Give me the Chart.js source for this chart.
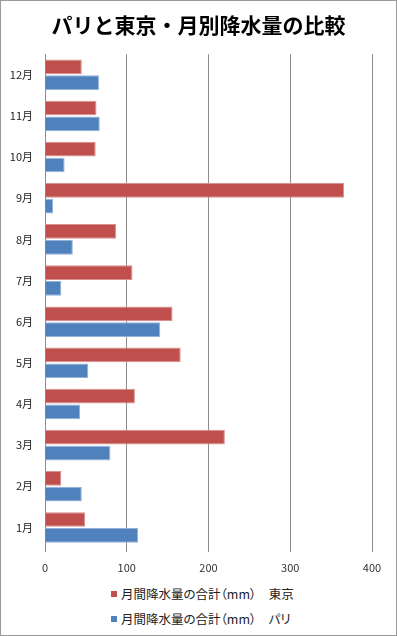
<!DOCTYPE html>
<html>
<head>
<meta charset="utf-8">
<script src="https://cdn.jsdelivr.net/npm/chart.js@4"></script>
<style>
html,body{margin:0;padding:0;background:#fff;}
#wrap{position:relative;width:397px;height:636px;box-sizing:border-box;border:1px solid #9a9a9a;background:#fff;overflow:hidden;}
#cbox{position:absolute;left:0;top:0;width:395px;height:580px;}
#legend{position:absolute;left:110px;top:580px;font-family:"Noto Sans CJK JP";font-size:12.5px;color:#222;font-feature-settings:"palt";}
.item{height:25px;white-space:nowrap;display:flex;align-items:center;}
.sw{width:6px;height:6px;margin-right:4px;flex:none;}
</style>
</head>
<body>
<div id="wrap">
  <div id="cbox"><canvas id="c"></canvas></div>
  <div id="legend"></div>
</div>
<script>
const titleText = 'パリと東京・月別降水量の比較';
const months = ['1月','2月','3月','4月','5月','6月','7月','8月','9月','10月','11月','12月'];
const tokyo = [49, 20, 220, 110, 166, 156, 107, 87, 366, 62, 63, 45];
const paris = [114, 45, 80, 43, 53, 141, 20, 34, 10, 24, 67, 66];
const xTicks = [0, 100, 200, 300, 400];
const seriesLabels = ['月間降水量の合計（mm）　東京', '月間降水量の合計（mm）　パリ'];
const seriesColors = ['#C0504D', '#4F81BD'];
const seriesBorders = ['#D9908E', '#93B2D8'];

const FONT = '"Noto Sans CJK JP", "Noto Sans", sans-serif';
const GRID = '#8c8c8c';

const chart = new Chart(document.getElementById('c'), {
  type: 'bar',
  data: {
    labels: months.slice().reverse(),
    datasets: [
      { label: seriesLabels[0], data: tokyo.slice().reverse(), backgroundColor: seriesColors[0], borderColor: seriesBorders[0], borderWidth: 1 },
      { label: seriesLabels[1], data: paris.slice().reverse(), backgroundColor: seriesColors[1], borderColor: seriesBorders[1], borderWidth: 1 }
    ]
  },
  options: {
    indexAxis: 'y',
    responsive: true,
    maintainAspectRatio: false,
    animation: false,
    devicePixelRatio: 1,
    categoryPercentage: 0.77,
    barPercentage: 0.93,
    layout: { padding: { left: 0, right: 0, top: 0, bottom: 3 } },
    plugins: {
      legend: { display: false },
      tooltip: { enabled: false },
      title: {
        display: true,
        text: titleText,
        color: '#000',
        font: { family: FONT, size: 21, weight: 'bold' },
        padding: { top: 11, bottom: 17 }
      }
    },
    scales: {
      x: {
        min: 0,
        max: 400,
        afterBuildTicks: s => { s.ticks = xTicks.map(v => ({ value: v })); },
        afterFit: s => { s.height = 30; },
        grid: { color: GRID, lineWidth: 1, drawTicks: true, tickLength: 4, tickColor: GRID },
        border: { display: false },
        ticks: { color: '#333', font: { family: FONT, size: 11 }, padding: 9 }
      },
      y: {
        afterFit: s => { s.width = 44; },
        grid: { display: false, drawTicks: false },
        border: { display: true, color: GRID, width: 1 },
        ticks: { color: '#222', font: { family: FONT, size: 11 }, padding: 12 }
      },
      yRight: {
        type: 'linear',
        position: 'right',
        display: true,
        afterFit: s => { s.width = 24; },
        grid: { display: false, drawTicks: false },
        border: { display: false },
        ticks: { display: false }
      }
    }
  }
});

const legend = document.getElementById('legend');
chart.data.datasets.forEach(ds => {
  const row = document.createElement('div');
  row.className = 'item';
  const sw = document.createElement('span');
  sw.className = 'sw';
  sw.style.background = ds.backgroundColor;
  const tx = document.createElement('span');
  tx.textContent = ds.label;
  row.appendChild(sw);
  row.appendChild(tx);
  legend.appendChild(row);
});
</script>
</body>
</html>
